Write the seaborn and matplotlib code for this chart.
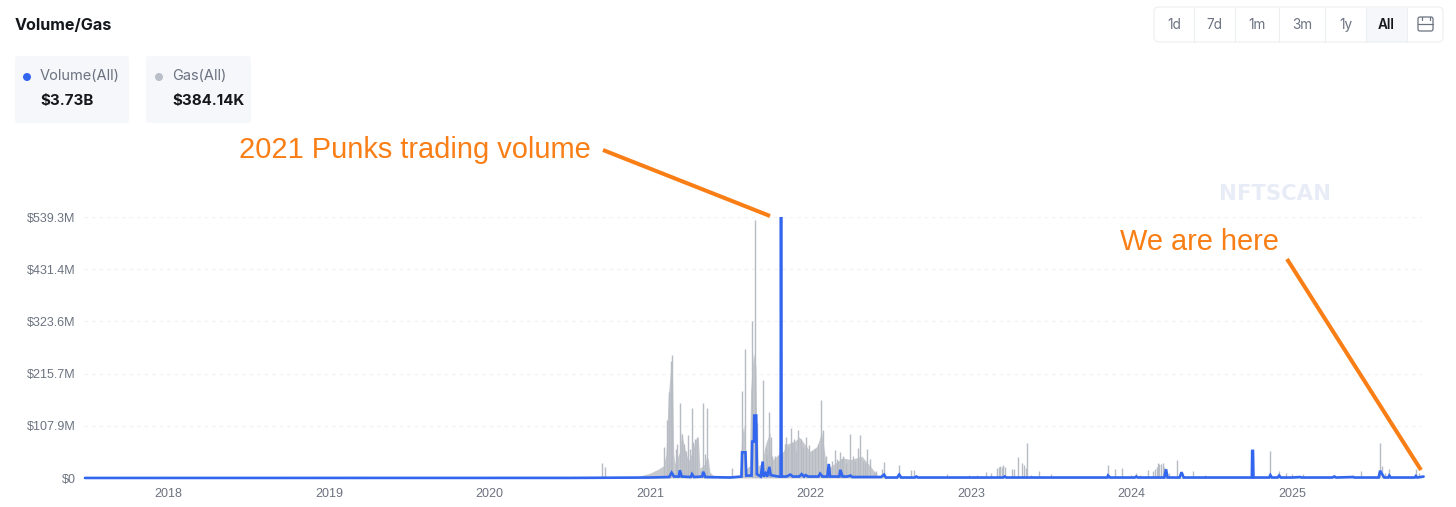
import matplotlib
matplotlib.use("Agg")
import matplotlib.pyplot as plt
from matplotlib.patches import FancyBboxPatch, Rectangle, Circle
import seaborn as sns

# values, x in decimal years, y in $M
y_ticks = [0, 107.9, 215.7, 323.6, 431.4, 539.3]
y_labels = ["$0", "$107.9M", "$215.7M", "$323.6M", "$431.4M", "$539.3M"]
x_ticks = [2018, 2019, 2020, 2021, 2022, 2023, 2024, 2025]

# gas, the solid mass under the spikes
gas_years = [2017.48, 2020.9, 2021.0, 2021.05, 2021.083, 2021.10, 2021.114, 2021.13, 2021.141, 2021.148,
             2021.155, 2021.187, 2021.195, 2021.218, 2021.239, 2021.259, 2021.285, 2021.301, 2021.311, 2021.343,
             2021.353, 2021.363, 2021.374, 2021.395, 2021.488, 2021.561, 2021.571, 2021.585, 2021.595, 2021.602,
             2021.62, 2021.627, 2021.645, 2021.66, 2021.665, 2021.675, 2021.696, 2021.72, 2021.748, 2021.752,
             2021.769, 2021.81, 2021.831, 2021.85, 2021.90, 2021.93, 2021.976, 2021.997, 2022.04, 2022.07,
             2022.09, 2022.101, 2022.143, 2022.20, 2022.25, 2022.32, 2022.371, 2022.42, 2022.5, 2025.82]
gas_values = [0, 1, 10, 18, 25, 50, 170, 230, 200, 50,
              30, 55, 95, 60, 35, 50, 80, 85, 20, 30,
              45, 40, 12, 5, 5, 5, 85, 110, 60, 20,
              25, 180, 260, 230, 110, 25, 30, 70, 95, 30,
              40, 50, 55, 70, 75, 85, 65, 55, 65, 95,
              50, 15, 28, 42, 38, 45, 25, 5, 2, 0.5]

# gas, the thin daily spikes
spike_years = [2020.70, 2020.72, 2021.09, 2021.104, 2021.118, 2021.129, 2021.139, 2021.16, 2021.17, 2021.189,
               2021.20, 2021.215, 2021.225, 2021.239, 2021.25, 2021.262, 2021.27, 2021.28, 2021.295, 2021.332,
               2021.345, 2021.353, 2021.511, 2021.576, 2021.591, 2021.636, 2021.653, 2021.667, 2021.7026, 2021.725,
               2021.73, 2021.744, 2021.755, 2021.76, 2021.78, 2021.798, 2021.82, 2021.84, 2021.849, 2021.86,
               2021.876, 2021.885, 2021.90, 2021.91, 2021.924, 2021.94, 2021.955, 2021.974, 2021.993, 2022.01,
               2022.03, 2022.05, 2022.067, 2022.079, 2022.095, 2022.12, 2022.135, 2022.155, 2022.165, 2022.17,
               2022.185, 2022.195, 2022.205, 2022.224, 2022.249, 2022.265, 2022.275, 2022.295, 2022.31, 2022.328,
               2022.34, 2022.355, 2022.37, 2022.395, 2022.411, 2022.443, 2022.459, 2022.553, 2022.628, 2022.646,
               2022.852, 2022.987, 2023.039, 2023.091, 2023.122, 2023.16, 2023.174, 2023.18, 2023.195, 2023.20,
               2023.209, 2023.253, 2023.27, 2023.292, 2023.32, 2023.330, 2023.34, 2023.348, 2023.376, 2023.423,
               2023.501, 2023.854, 2023.898, 2023.941, 2024.0, 2024.031, 2024.056, 2024.104, 2024.135, 2024.145,
               2024.156, 2024.165, 2024.173, 2024.186, 2024.195, 2024.205, 2024.213, 2024.232, 2024.285, 2024.386,
               2024.457, 2024.865, 2024.920, 2024.960, 2025.0, 2025.067, 2025.264, 2025.378, 2025.430, 2025.549,
               2025.56, 2025.58, 2025.606, 2025.772, 2025.79]
spike_values = [30, 22, 65, 120, 178, 242, 254, 60, 70, 155,
                90, 70, 55, 89, 60, 144, 75, 80, 85, 154,
                50, 144, 20, 180, 266, 325, 533, 113, 202, 65,
                50, 137, 85, 45, 45, 47, 50, 70, 85, 65,
                103, 75, 80, 55, 99, 80, 65, 85, 68, 55,
                60, 70, 161, 100, 45, 25, 35, 58, 40, 35,
                53, 40, 45, 30, 91, 45, 35, 62, 88, 36,
                30, 60, 40, 12, 15, 19, 34, 27, 17, 17,
                8, 7, 7, 12, 10, 20, 22, 24, 22, 26,
                23, 19, 18, 44, 30, 27, 20, 72, 7, 15,
                8, 27, 19, 20, 7, 10, 7, 17, 14, 18,
                22, 32, 28, 28, 30, 22, 19, 10, 38, 14,
                7, 56, 15, 10, 8, 8, 7, 7, 15, 72,
                25, 10, 19, 19, 10]

volume_years = [2017.48, 2020.5, 2021.0, 2021.12, 2021.135, 2021.15, 2021.18, 2021.186, 2021.198, 2021.255,
                2021.262, 2021.275, 2021.325, 2021.332, 2021.345, 2021.5, 2021.57, 2021.574, 2021.595, 2021.60,
                2021.633, 2021.637, 2021.648, 2021.65, 2021.662, 2021.666, 2021.69, 2021.7026, 2021.707, 2021.72,
                2021.73, 2021.744, 2021.752, 2021.80, 2021.814, 2021.8167, 2021.82, 2021.85, 2021.875, 2021.89,
                2021.93, 2021.945, 2021.96, 2021.97, 2021.985, 2022.05, 2022.06, 2022.075, 2022.105, 2022.114,
                2022.122, 2022.18, 2022.186, 2022.2, 2022.23, 2022.25, 2022.26, 2022.35, 2022.44, 2022.459,
                2022.47, 2022.54, 2022.553, 2022.565, 2022.65, 2022.66, 2022.67, 2022.80, 2023.0, 2023.18,
                2023.2, 2023.21, 2023.22, 2023.85, 2023.854, 2023.867, 2024.02, 2024.03, 2024.04, 2024.05,
                2024.2, 2024.205, 2024.215, 2024.225, 2024.30, 2024.312, 2024.325, 2024.55, 2024.75, 2024.752,
                2024.757, 2024.76, 2024.858, 2024.865, 2024.875, 2024.91, 2024.92, 2024.93, 2025.0, 2025.05,
                2025.06, 2025.25, 2025.264, 2025.275, 2025.38, 2025.39, 2025.54, 2025.549, 2025.565, 2025.575,
                2025.6, 2025.606, 2025.615, 2025.765, 2025.772, 2025.78, 2025.82]
volume_values = [0.1, 0.2, 1, 2, 11, 3, 3, 16, 3, 2,
                 8, 2, 3, 13, 2, 1, 3, 53, 53, 5,
                 5, 75, 75, 129, 129, 8, 3, 34, 3, 10,
                 3, 23, 6, 3, 3, 539.3, 3, 3, 7, 3,
                 3, 8, 3, 6, 3, 3, 9, 3, 3, 29,
                 3, 3, 17, 3, 3, 5, 2, 2, 2, 7,
                 1, 1, 7, 1, 1, 3, 1, 1, 1, 1,
                 1, 3, 1, 1, 5, 1, 1, 3, 1, 1,
                 1, 1, 18, 1, 1, 12, 1, 1, 1, 56,
                 56, 1, 1, 6, 1, 1, 5, 1, 1, 2,
                 1, 1, 3, 1, 2, 1, 1, 15, 6, 1,
                 1, 5, 1, 1, 4, 1, 3]

BLUE = "#3366ee"
GAS = "#c6cace"
ORANGE = "#f97e16"
GREY_TEXT = "#6b7280"
CARD = "#f5f7fa"

sns.set_style("white")
plt.rcParams["font.family"] = ["Liberation Sans", "DejaVu Sans"]

fig = plt.figure(figsize=(14.56, 5.07), dpi=100)
ax = fig.add_axes([84 / 1456, 1 - 478 / 507, (1422 - 84) / 1456, (478 - 217) / 507])

ax.fill_between(gas_years, gas_values, color=GAS, lw=0)
ax.vlines(spike_years, 0, spike_values, color="#b7bcc4", lw=1)
sns.lineplot(x=volume_years, y=volume_values, color=BLUE, lw=1.9, estimator=None, ax=ax)
for l in ax.get_lines():
    l.set_clip_on(False)
    l.set_solid_joinstyle("miter")

ax.set_xlim(2017.474, 2025.81)
ax.set_ylim(0, 539.3)
ax.set_xticks(x_ticks)
ax.set_xticklabels([str(t) for t in x_ticks])
ax.set_yticks(y_ticks)
ax.set_yticklabels(y_labels)
ax.tick_params(axis="both", length=0, labelsize=9, labelcolor=GREY_TEXT)
ax.tick_params(axis="x", pad=7)
ax.tick_params(axis="y", pad=6)
ax.grid(axis="y", color="#f1f2f4", ls=(0, (3, 3)), lw=0.9)
ax.set_axisbelow(True)
sns.despine(ax=ax, left=True, bottom=True)

# page furniture in pixel coordinates
ui = fig.add_axes([0, 0, 1, 1], zorder=5)
ui.set_xlim(0, 1456)
ui.set_ylim(507, 0)
ui.axis("off")

ui.text(15, 25, "Volume/Gas", fontsize=11.6, fontweight="bold", family="Inter", color="#14171c", va="center")

for left, right in [(15, 129), (146, 251)]:
    ui.add_patch(FancyBboxPatch((left + 3, 59), right - left - 6, 61, boxstyle="round,pad=3", fc=CARD, ec="none"))
ui.add_patch(Circle((27, 77), 4, fc=BLUE, ec="none"))
ui.add_patch(Circle((159, 77), 4, fc="#b9bfc8", ec="none"))
ui.text(40, 76.5, "Volume(All)", fontsize=10.5, family="Inter", color=GREY_TEXT, va="center")
ui.text(172, 76.5, "Gas(All)", fontsize=10.5, family="Inter", color=GREY_TEXT, va="center")
ui.text(40, 100.5, "$3.73B", fontsize=10.9, fontweight="bold", family="Inter", color="#14171c", va="center")
ui.text(172, 100.5, "$384.14K", fontsize=10.9, fontweight="bold", family="Inter", color="#14171c", va="center")

# range buttons
ui.add_patch(Rectangle((1366, 7.5), 41, 34.5, fc=CARD, ec="none"))
ui.add_patch(FancyBboxPatch((1159, 12), 279, 25, boxstyle="round,pad=5", fc="none", ec="#eceef0", lw=0.8))
for x in [1194, 1235, 1279, 1325, 1366, 1407]:
    ui.plot([x, x], [7.5, 42], color="#eceef0", lw=0.8)
buttons = ["1d", "7d", "1m", "3m", "1y", "All"]
button_x = [1174, 1214.5, 1257, 1302, 1345.5, 1386.5]
for label, x in zip(buttons, button_x):
    active = label == "All"
    ui.text(x, 25, label, fontsize=9.8, family="Inter", ha="center", va="center",
            color="#14171c" if active else GREY_TEXT, fontweight="semibold" if active else "normal")
ui.add_patch(FancyBboxPatch((1420, 19), 11, 10, boxstyle="round,pad=2", fc="none", ec="#6b7280", lw=0.9))
ui.plot([1418, 1433], [23.5, 23.5], color="#6b7280", lw=0.9)
ui.plot([1421.5, 1421.5], [16.5, 19.5], color="#6b7280", lw=0.9)
ui.plot([1429.5, 1429.5], [16.5, 19.5], color="#6b7280", lw=0.9)

# watermark
ui.text(1275, 194, "NFTSCAN", fontsize=15.3, fontweight="bold", family="DejaVu Sans", color="#e8ecf6",
        ha="center", va="center")

# hand drawn annotations
ui.text(239, 150, "2021 Punks trading volume", fontsize=20.9, color=ORANGE, va="center")
ui.text(1120, 242, "We are here", fontsize=20.9, color=ORANGE, va="center")
ui.plot([603, 770], [150, 216], color=ORANGE, lw=2.9, solid_capstyle="butt")
ui.plot([1287, 1421], [259, 470], color=ORANGE, lw=2.9, solid_capstyle="butt")

fig.savefig("out.png", dpi=100)
